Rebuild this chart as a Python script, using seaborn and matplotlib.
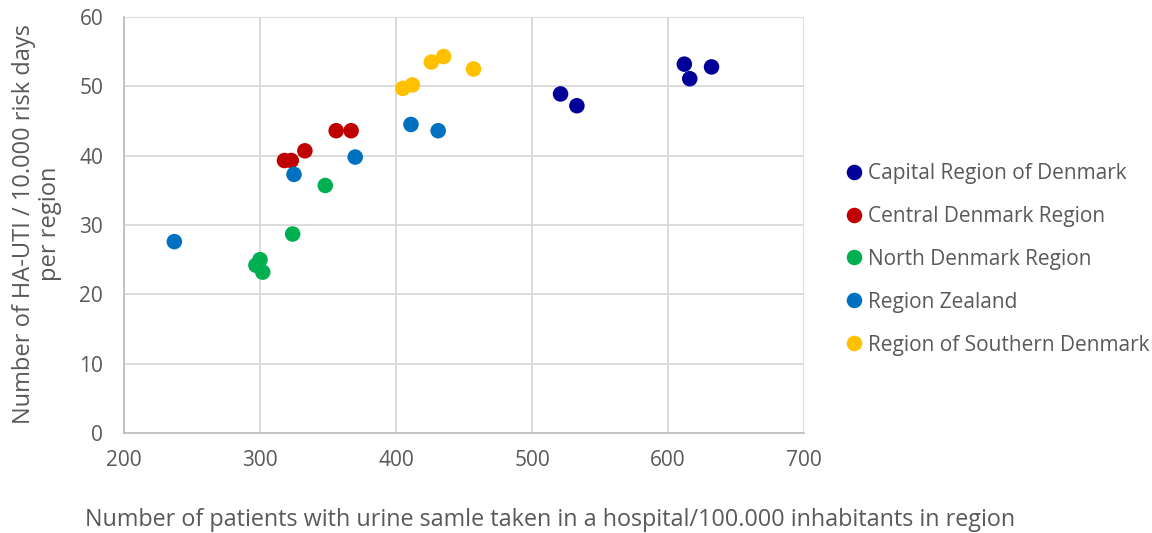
import matplotlib
matplotlib.use("Agg")
import matplotlib.pyplot as plt
import seaborn as sns
import pandas as pd

regions = ["Capital Region of Denmark", "Central Denmark Region", "North Denmark Region",
           "Region Zealand", "Region of Southern Denmark"]
colors = ["#000099", "#C00000", "#00B050", "#0070C0", "#FFC000"]

capital_x = [521, 533, 612, 616, 632]
capital_y = [48.9, 47.2, 53.2, 51.1, 52.8]
central_x = [318, 323, 333, 356, 367]
central_y = [39.3, 39.3, 40.7, 43.6, 43.6]
north_x = [348, 324, 300, 297, 302]
north_y = [35.7, 28.7, 25.0, 24.2, 23.2]
zealand_x = [237, 325, 370, 411, 431]
zealand_y = [27.6, 37.3, 39.8, 44.5, 43.6]
southern_x = [405, 412, 426, 435, 457]
southern_y = [49.7, 50.2, 53.5, 54.3, 52.5]

xs = [capital_x, central_x, north_x, zealand_x, southern_x]
ys = [capital_y, central_y, north_y, zealand_y, southern_y]
rows = []
for r, xx, yy in zip(regions, xs, ys):
    for a, b in zip(xx, yy):
        rows.append({"x": a, "y": b, "region": r})
df = pd.DataFrame(rows)

sns.set_theme(style="white")
plt.rcParams["font.family"] = ["Open Sans", "DejaVu Sans"]
txt = "#595959"

fig = plt.figure(figsize=(11.52, 5.33), dpi=100)
ax = fig.add_axes([124/1152, 1-433/533, (804-124)/1152, (433-17)/533])
sns.scatterplot(data=df, x="x", y="y", hue="region", hue_order=regions,
                palette=colors, s=125, edgecolor="none", ax=ax, zorder=3)

ax.set_xlim(200, 700)
ax.set_ylim(0, 60)
ax.set_xticks([200, 300, 400, 500, 600, 700])
ax.set_yticks([0, 10, 20, 30, 40, 50, 60])
ax.grid(True, color="#D9D9D9", linewidth=1.3)
ax.set_axisbelow(True)
for s in ["top", "right"]:
    ax.spines[s].set_visible(False)
for s in ["left", "bottom"]:
    ax.spines[s].set_color("#BFBFBF")
    ax.spines[s].set_linewidth(1.3)
ax.tick_params(axis="both", colors=txt, labelsize=15, length=0)
ax.tick_params(axis="x", pad=12)
ax.tick_params(axis="y", pad=15)
ax.set_xlabel("")
ax.set_ylabel("")
fig.text(37/1152, 1-224/533, "Number of HA-UTI / 10.000 risk days\nper region", rotation=90,
         ha="center", va="center", multialignment="center", color=txt, fontsize=17, linespacing=1.15)
fig.text(550/1152, 1-520/533, "Number of patients with urine samle taken in a hospital/100.000 inhabitants in region",
         ha="center", va="center", color=txt, fontsize=16.8)

leg = ax.legend(loc="upper left", bbox_to_anchor=(846/1152, 1-163/533), bbox_transform=fig.transFigure,
                frameon=False, fontsize=15, labelspacing=1.05, handletextpad=0.25, markerscale=1.0,
                borderaxespad=0, borderpad=0, handlelength=0.8)
for t in leg.get_texts():
    t.set_color(txt)

fig.savefig("out.png", dpi=100)
